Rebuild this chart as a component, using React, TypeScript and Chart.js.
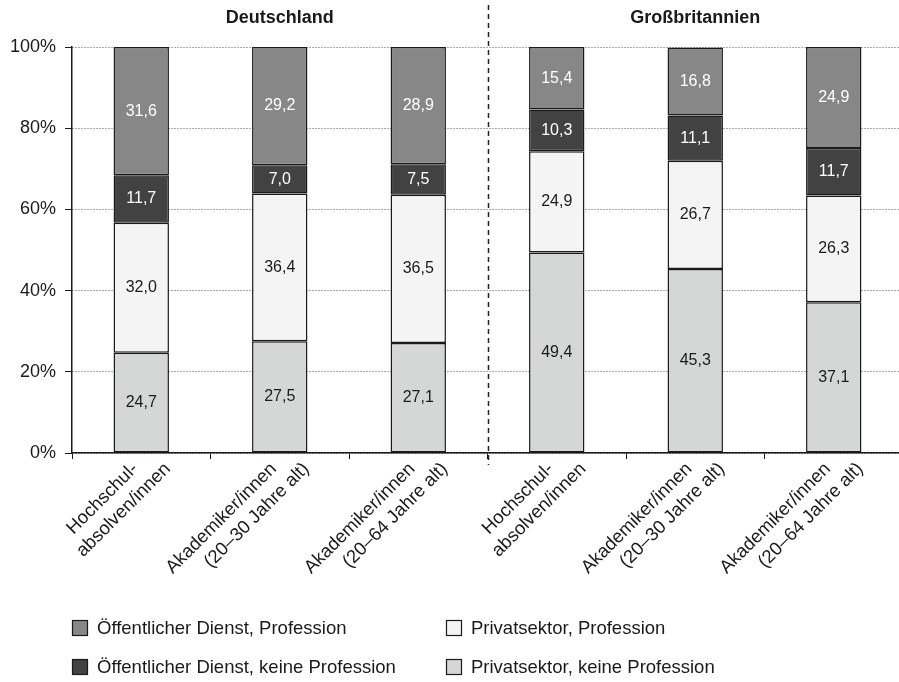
import { useEffect, useRef } from "react";
import { Chart, registerables } from "chart.js";

Chart.register(...registerables);

// ---- Data ----
const categories: string[][] = [
  ["Hochschul-", "absolven/innen"],
  ["Akademiker/innen", "(20–30 Jahre alt)"],
  ["Akademiker/innen", "(20–64 Jahre alt)"],
  ["Hochschul-", "absolven/innen"],
  ["Akademiker/innen", "(20–30 Jahre alt)"],
  ["Akademiker/innen", "(20–64 Jahre alt)"],
];
const groupTitles = ["Deutschland", "Großbritannien"];
const seriesLabels = [
  "Privatsektor, keine Profession",
  "Privatsektor, Profession",
  "Öffentlicher Dienst, keine Profession",
  "Öffentlicher Dienst, Profession",
];
const privatKeine = [24.7, 27.5, 27.1, 49.4, 45.3, 37.1];
const privatProf = [32.0, 36.4, 36.5, 24.9, 26.7, 26.3];
const oeffKeine = [11.7, 7.0, 7.5, 10.3, 11.1, 11.7];
const oeffProf = [31.6, 29.2, 28.9, 15.4, 16.8, 24.9];
const yTickValues = [0, 20, 40, 60, 80, 100];

// ---- Styles ----
const FONT = "'Liberation Sans', Arial, sans-serif";
const TEXT = "#1a1a1a";
const colors = ["#d5d7d6", "#f4f4f4", "#424242", "#878787"];
const labelColors = [TEXT, TEXT, "#ffffff", "#ffffff"];
// legend layout: [datasetIndex, column, row]
const legendLayout: [number, number, number][] = [
  [3, 0, 0],
  [1, 1, 0],
  [2, 0, 1],
  [0, 1, 1],
];

const fmt = (v: number) => v.toFixed(1).replace(".", ",");

const overlayPlugin = {
  id: "overlay",
  afterDatasetsDraw(chart: any) {
    const ctx = chart.ctx as CanvasRenderingContext2D;
    ctx.save();
    ctx.font = `16px ${FONT}`;
    ctx.textAlign = "center";
    ctx.textBaseline = "middle";
    chart.data.datasets.forEach((ds: any, di: number) => {
      const meta = chart.getDatasetMeta(di);
      meta.data.forEach((el: any, i: number) => {
        const yc = (el.y + el.base) / 2;
        ctx.fillStyle = labelColors[di];
        ctx.fillText(fmt(ds.data[i]), el.x, yc);
      });
    });
    ctx.restore();
  },
  afterDraw(chart: any) {
    const ctx = chart.ctx as CanvasRenderingContext2D;
    const xs = chart.scales.x;
    const area = chart.chartArea;
    const px = (i: number) => xs.getPixelForValue(i);

    // group titles
    ctx.save();
    ctx.font = `bold 18px ${FONT}`;
    ctx.fillStyle = TEXT;
    ctx.textAlign = "center";
    ctx.textBaseline = "middle";
    ctx.fillText(groupTitles[0], (px(0) + px(2)) / 2, 18);
    ctx.fillText(groupTitles[1], (px(3) + px(5)) / 2, 18);
    ctx.restore();

    // dashed separator
    ctx.save();
    const sx = Math.round((px(2) + px(3)) / 2) + 0.5;
    ctx.strokeStyle = "#222";
    ctx.lineWidth = 1.5;
    ctx.setLineDash([5, 4]);
    ctx.beginPath();
    ctx.moveTo(sx, 5);
    ctx.lineTo(sx, area.bottom + 12);
    ctx.stroke();
    ctx.restore();

    // x labels (rotated)
    ctx.save();
    ctx.font = `18.5px ${FONT}`;
    ctx.fillStyle = TEXT;
    ctx.textAlign = "right";
    ctx.textBaseline = "middle";
    categories.forEach((lines, i) => {
      const xc = px(i);
      lines.forEach((line, k) => {
        ctx.save();
        ctx.translate(xc - 6 + k * 32.5, area.bottom + 13);
        ctx.rotate(-Math.PI / 4);
        ctx.fillText(line, 0, 0);
        ctx.restore();
      });
    });
    ctx.restore();

    // legend
    ctx.save();
    ctx.font = `18.5px ${FONT}`;
    ctx.textBaseline = "middle";
    ctx.textAlign = "left";
    const colX = [72, 446];
    const rowY = [628, 667];
    legendLayout.forEach(([di, c, r]) => {
      const ds = chart.data.datasets[di];
      const bx = colX[c];
      const by = rowY[r];
      ctx.fillStyle = ds.backgroundColor;
      ctx.fillRect(bx, by - 8, 16, 16);
      ctx.strokeStyle = "#1a1a1a";
      ctx.lineWidth = 1.2;
      ctx.strokeRect(bx + 0.5, by - 7.5, 15, 15);
      ctx.fillStyle = TEXT;
      ctx.fillText(ds.label, bx + 25, by + 1);
    });
    ctx.restore();
  },
};

export default function App() {
  const ref = useRef<HTMLCanvasElement | null>(null);

  useEffect(() => {
    if (!ref.current) return;
    const seriesData = [privatKeine, privatProf, oeffKeine, oeffProf];
    const chart = new Chart(ref.current, {
      type: "bar",
      data: {
        labels: categories.map((c) => c.join(" ")),
        datasets: seriesData.map((d, i) => ({
          label: seriesLabels[i],
          data: d,
          backgroundColor: colors[i],
          borderColor: "#1a1a1a",
          borderWidth: 1.5,
          borderSkipped: false,
          barPercentage: 0.4,
          categoryPercentage: 1.0,
        })),
      },
      options: {
        animation: false,
        responsive: true,
        maintainAspectRatio: false,
        layout: { padding: { left: 0, right: 1, top: 47, bottom: 0 } },
        plugins: {
          legend: { display: false },
          tooltip: { enabled: false },
          title: { display: false },
        },
        scales: {
          x: {
            stacked: true,
            grid: {
              offset: true,
              drawOnChartArea: false,
              drawTicks: true,
              tickLength: 6,
              color: "#1a1a1a",
              lineWidth: 1,
            },
            border: { color: "#1a1a1a", width: 1.5 },
            ticks: { display: false },
            afterFit: (s: any) => {
              s.height = 229;
            },
          },
          y: {
            stacked: true,
            min: 0,
            max: 100,
            afterBuildTicks: (s: any) => {
              s.ticks = yTickValues.map((v) => ({ value: v }));
            },
            ticks: {
              callback: (v: any) => `${v}%`,
              font: { family: FONT, size: 18 },
              color: TEXT,
              padding: 9,
            },
            grid: {
              color: "#555",
              lineWidth: 1,
              tickColor: "#1a1a1a",
              tickLength: 7,
            },
            border: { color: "#1a1a1a", width: 1.5, dash: [1, 2] },
            afterFit: (s: any) => {
              s.width = 72;
            },
          },
        },
      },
      plugins: [overlayPlugin],
    });
    return () => chart.destroy();
  }, []);

  return (
    <div
      style={{
        position: "fixed",
        left: 0,
        top: 0,
        width: 899,
        height: 682,
        overflow: "hidden",
        background: "#fff",
      }}
    >
      <div style={{ position: "relative", width: 904, height: 682 }}>
        <canvas ref={ref} />
      </div>
    </div>
  );
}
